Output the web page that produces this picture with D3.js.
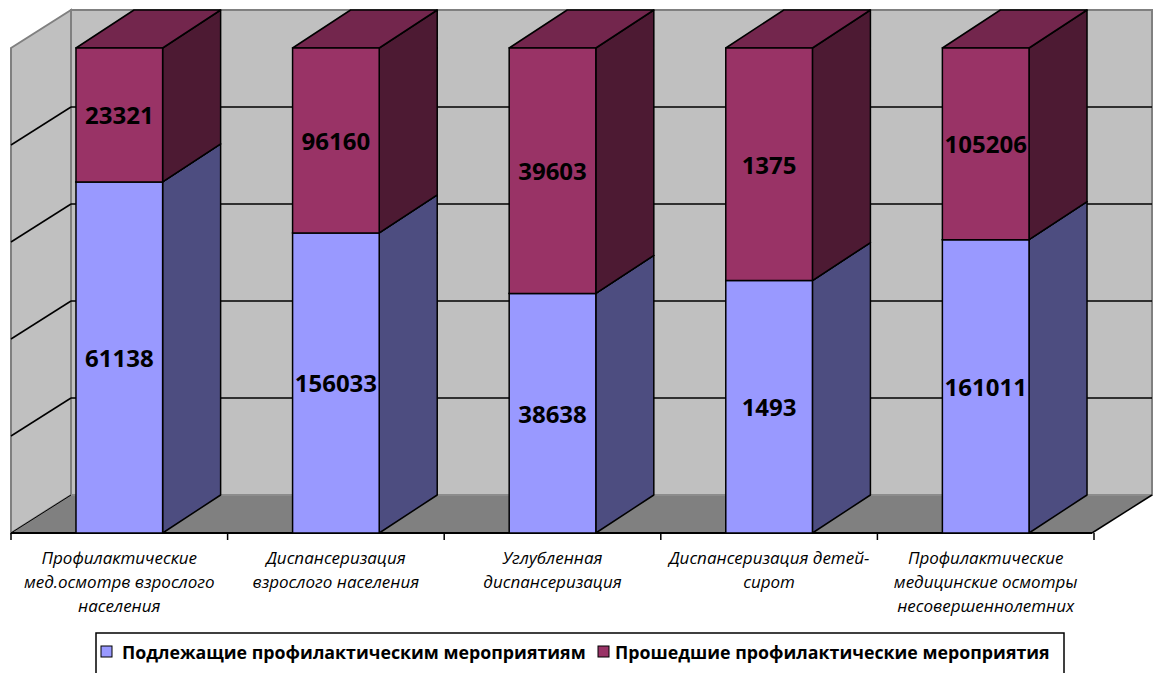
<!DOCTYPE html>
<html>
<head>
<meta charset="utf-8">
<script src="https://cdn.jsdelivr.net/npm/d3@7"></script>
<style>
  html, body { margin: 0; padding: 0; background: #ffffff; }
  svg { display: block; }
</style>
</head>
<body>
<svg id="chart" width="1158" height="673"></svg>
<script>
// Categories (each label split into its display lines)
const categories = [
  "Профилактические мед.осмотрв взрослого населения",
  "Диспансеризация взрослого населения",
  "Углубленная диспансеризация",
  "Диспансеризация детей-сирот",
  "Профилактические медицинские осмотры несовершеннолетних"
];
const categoryLines = [
  ["Профилактические", "мед.осмотрв взрослого", "населения"],
  ["Диспансеризация", "взрослого населения"],
  ["Углубленная", "диспансеризация"],
  ["Диспансеризация детей-", "сирот"],
  ["Профилактические", "медицинские осмотры", "несовершеннолетних"]
];
const seriesNames = ["Подлежащие профилактическим мероприятиям", "Прошедшие профилактические мероприятия"];
const subjectValues = [61138, 156033, 38638, 1493, 161011];
const passedValues = [23321, 96160, 39603, 1375, 105206];
const shareTicks = [0, 0.2, 0.4, 0.6, 0.8, 1];

const svg = d3.select("#chart");

// 3D frame geometry
const plotLeft = 11, plotRight = 1094, floorY = 533, topY = 48;
const DX = 60, DY = -38;      // wall depth offset
const BDX = 58, BDY = -38;    // bar depth offset

const x = d3.scaleBand().domain(categories).range([plotLeft, plotRight])
  .paddingInner(0.6).paddingOuter(0.3);
const y = d3.scaleLinear().domain([0, 1]).range([floorY, topY]);

const colors = {
  subject: { front: "#9999ff", side: "#4d4d80", top: "#7373bf" },
  passed:  { front: "#993366", side: "#4d1a33", top: "#73264d" }
};

const poly = pts => "M" + pts.map(p => p.join(",")).join("L") + "Z";

// Walls and floor
const g = svg.append("g");
const yBack0 = y(0) + DY, yBack1 = y(1) + DY;
// back wall
g.append("path")
  .attr("d", poly([[plotLeft + DX, yBack1], [plotRight + DX - 2, yBack1], [plotRight + DX - 2, yBack0], [plotLeft + DX, yBack0]]))
  .attr("fill", "#c0c0c0").attr("stroke", "#808080").attr("stroke-width", 2);
// left side wall
g.append("path")
  .attr("d", poly([[plotLeft, y(1)], [plotLeft + DX, yBack1], [plotLeft + DX, yBack0], [plotLeft, y(0)]]))
  .attr("fill", "#c0c0c0").attr("stroke", "#808080").attr("stroke-width", 2);
// floor
g.append("path")
  .attr("d", poly([[plotLeft, y(0)], [plotLeft + DX, yBack0], [plotRight + DX - 2, yBack0], [plotRight - 2, y(0)]]))
  .attr("fill", "#808080").attr("stroke", "none");
g.append("line")
  .attr("x1", plotLeft + DX).attr("y1", yBack0).attr("x2", plotRight + DX - 2).attr("y2", yBack0)
  .attr("stroke", "#8c8c8c").attr("stroke-width", 2);
g.append("line")
  .attr("x1", plotLeft).attr("y1", y(0)).attr("x2", plotLeft + DX).attr("y2", yBack0)
  .attr("stroke", "#000").attr("stroke-width", 1);
g.append("line")
  .attr("x1", plotRight - 2).attr("y1", y(0)).attr("x2", plotRight + DX - 2).attr("y2", yBack0)
  .attr("stroke", "#000").attr("stroke-width", 1.5);

// Gridlines on back and side walls
const grid = shareTicks.filter(t => t > 0 && t < 1);
g.selectAll(".gridBack").data(grid).join("line")
  .attr("x1", plotLeft + DX).attr("x2", plotRight + DX - 2)
  .attr("y1", t => y(t) + DY).attr("y2", t => y(t) + DY)
  .attr("stroke", "#000").attr("stroke-width", 1.5);
g.selectAll(".gridSide").data(grid).join("line")
  .attr("x1", plotLeft).attr("x2", plotLeft + DX)
  .attr("y1", t => y(t)).attr("y2", t => y(t) + DY)
  .attr("stroke", "#000").attr("stroke-width", 1.5);

// Category axis along the front edge of the floor
const step = x.step();
const tickXs = d3.range(categories.length + 1).map(i => plotLeft + i * step);
g.append("line")
  .attr("x1", plotLeft).attr("x2", plotRight - 2).attr("y1", floorY).attr("y2", floorY)
  .attr("stroke", "#000").attr("stroke-width", 2);
g.selectAll(".tick").data(tickXs).join("line")
  .attr("x1", d => d).attr("x2", d => d).attr("y1", floorY).attr("y2", floorY + 7)
  .attr("stroke", "#000").attr("stroke-width", 1.5);

// Stacked 100% columns
const rows = categories.map((c, i) => {
  const total = subjectValues[i] + passedValues[i];
  return [
    { key: "subject", cat: c, v: subjectValues[i], y0: 0, y1: subjectValues[i] / total },
    { key: "passed", cat: c, v: passedValues[i], y0: subjectValues[i] / total, y1: 1 }
  ];
});

const bars = svg.append("g");
rows.forEach(segs => {
  segs.forEach(s => {
    const x0 = x(s.cat), x1 = x0 + x.bandwidth();
    const yb = y(s.y0), yt = y(s.y1);
    const col = colors[s.key];
    const sg = bars.append("g");
    sg.append("path")
      .attr("d", poly([[x1, yt], [x1 + BDX, yt + BDY], [x1 + BDX, yb + BDY], [x1, yb]]))
      .attr("fill", col.side).attr("stroke", "#000").attr("stroke-width", 1.5).attr("stroke-linejoin", "round");
    sg.append("path")
      .attr("d", poly([[x0, yt], [x0 + BDX, yt + BDY], [x1 + BDX, yt + BDY], [x1, yt]]))
      .attr("fill", col.top).attr("stroke", "#000").attr("stroke-width", 1.5).attr("stroke-linejoin", "round");
    sg.append("path")
      .attr("d", poly([[x0, yt], [x1, yt], [x1, yb], [x0, yb]]))
      .attr("fill", col.front).attr("stroke", "#000").attr("stroke-width", 1.5);
    sg.append("text")
      .attr("x", (x0 + x1) / 2).attr("y", (yt + yb) / 2)
      .attr("text-anchor", "middle").attr("dominant-baseline", "central")
      .attr("font-family", "'Open Sans', sans-serif").attr("font-weight", "bold")
      .attr("font-size", 24).attr("fill", "#000")
      .text(s.v);
  });
});

// Category labels
const labels = svg.append("g")
  .attr("font-family", "'Open Sans', sans-serif").attr("font-style", "italic")
  .attr("font-size", 17).attr("fill", "#000").attr("text-anchor", "middle");
categories.forEach((c, i) => {
  const cx = x(c) + x.bandwidth() / 2;
  categoryLines[i].forEach((ln, j) => {
    labels.append("text").attr("x", cx).attr("y", 557 + j * 24)
      .attr("dominant-baseline", "central").text(ln);
  });
});

// Legend
const legend = svg.append("g");
legend.append("rect").attr("x", 96).attr("y", 633).attr("width", 968).attr("height", 60)
  .attr("fill", "#fff").attr("stroke", "#000").attr("stroke-width", 1.5);
const legendItems = [
  { name: seriesNames[0], color: colors.subject.front, mx: 101, tx: 122 },
  { name: seriesNames[1], color: colors.passed.front, mx: 598, tx: 615 }
];
legendItems.forEach(it => {
  legend.append("rect").attr("x", it.mx).attr("y", 646).attr("width", 11).attr("height", 11)
    .attr("fill", it.color).attr("stroke", "#000").attr("stroke-width", 1);
  legend.append("text").attr("x", it.tx).attr("y", 652)
    .attr("dominant-baseline", "central")
    .attr("font-family", "'Open Sans', sans-serif").attr("font-weight", "bold")
    .attr("font-size", 17.8).attr("fill", "#000").text(it.name);
});
</script>
</body>
</html>
